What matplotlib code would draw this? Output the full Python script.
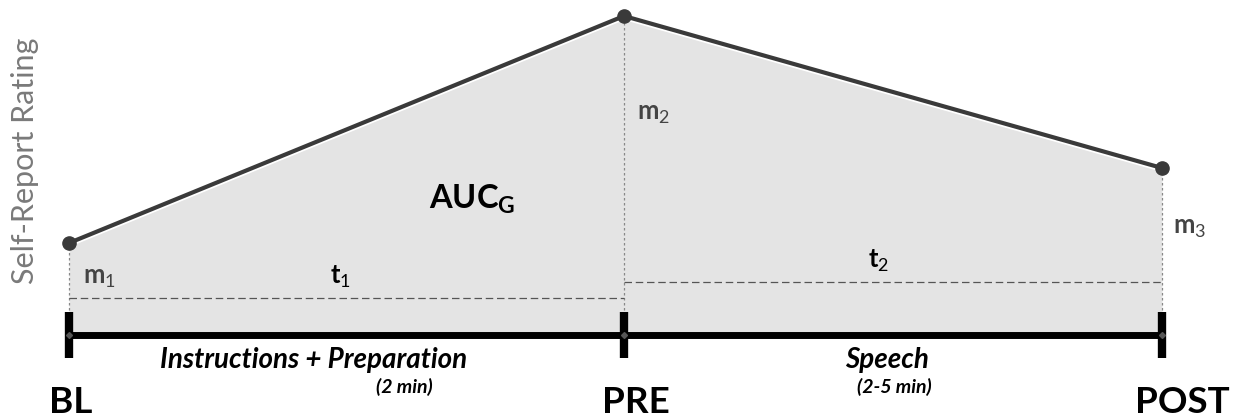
import numpy as np
import matplotlib.pyplot as plt

plt.rcParams['font.family'] = ['Lato', 'DejaVu Sans']
plt.rcParams['mathtext.fontset'] = 'custom'
plt.rcParams['mathtext.rm'] = 'Lato'
plt.rcParams['mathtext.bf'] = 'Lato:bold'

# time points and self-report ratings (arbitrary units)
labels = ["BL", "PRE", "POST"]
times = [0, 555, 1093]
ratings = [92, 319, 167]
phases = ["Instructions + Preparation", "Speech"]
durations = ["(2 min)", "(2-5 min)"]
t_levels = [37, 53]   # height of the dashed t1 / t2 guides

fig = plt.figure(figsize=(12.34, 4.2), dpi=100)
ax = fig.add_axes([0, 0, 1, 1])
ax.set_xlim(-69, 1234 - 69)
ax.set_ylim(-85, 335)
ax.axis("off")

# area under the curve
ax.fill_between(times, 0, ratings, color="#e4e4e4", lw=0, zorder=1)

# vertical guides m1..m3
for i in range(3):
    ax.plot([times[i], times[i]], [0, ratings[i]], color="#888888", lw=0.9,
            ls=(0, (2, 2)), zorder=2)

# horizontal guides t1, t2
for i in range(2):
    ax.plot([times[i], times[i + 1]], [t_levels[i], t_levels[i]],
            color="#555555", lw=0.9, ls=(0, (6, 3)), zorder=2)

# rating line
ax.plot(times, ratings, color="white", lw=5.5, zorder=3, solid_capstyle="round")
ax.plot(times, ratings, color="#3a3a3a", lw=3, zorder=4)
ax.plot(times, ratings, "o", color="#3a3a3a", ms=9.5, zorder=5)

# timeline
ax.plot([times[0], times[-1]], [0, 0], color="black", lw=5, zorder=6,
        solid_capstyle="butt")
for t in times:
    ax.plot([t, t], [-23, 23], color="black", lw=6, zorder=6, solid_capstyle="butt")
    ax.plot(t, 0, "D", color="#555555", ms=3, zorder=7)

# tick labels
lab_x = [2, 567, 1113]
for lx, lab in zip(lab_x, labels):
    ax.text(lx, -78, lab, ha="center", va="baseline", fontsize=26.5,
            fontweight="bold", color="black")

# phase labels
ph_x = [91, 776]
dur_x = [335, 825]
for i in range(2):
    ax.text(ph_x[i], -33, phases[i], ha="left", va="baseline", fontsize=20,
            fontweight="bold", fontstyle="italic")
    ax.text(dur_x[i], -58, durations[i], ha="center", va="baseline", fontsize=14,
            fontweight="bold", fontstyle="italic")

# annotations
gray = "#444444"
fs = 18.5
ax.text(14, 52, r"$\mathbf{m}_{\mathrm{1}}$", fontsize=fs, color=gray, va="baseline")
ax.text(568, 215, r"$\mathbf{m}_{\mathrm{2}}$", fontsize=fs, color=gray, va="baseline")
ax.text(1104, 102, r"$\mathbf{m}_{\mathrm{3}}$", fontsize=fs, color=gray, va="baseline")
ax.text(261, 52, r"$\mathbf{t}_{\mathrm{1}}$", fontsize=fs, color="black", va="baseline")
ax.text(799, 67, r"$\mathbf{t}_{\mathrm{2}}$", fontsize=fs, color="black", va="baseline")
ax.text(360, 127, r"$\mathbf{AUC}_{\mathbf{G}}$", fontsize=23.5, color="black",
        va="baseline")

ax.text(-44, 174, "Self-Report Rating", rotation=90, ha="center", va="center",
        fontsize=22, color="#7a7a7a")

fig.savefig("out.png", dpi=100)
